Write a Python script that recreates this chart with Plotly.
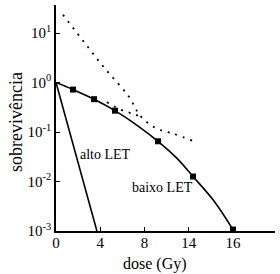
import plotly.graph_objects as go

# baixo LET curve
low_dose = [0, 1.54, 3.44, 5.33, 7.3, 9.22, 10.9, 12.39, 14.3, 16.0]
low_surv = [1.0, 0.72, 0.46, 0.27, 0.138, 0.065, 0.030, 0.0126, 0.0040, 0.00107]
# markers
mk_dose = [1.54, 3.44, 5.33, 9.22, 12.39, 16.0]
mk_surv = [0.72, 0.46, 0.27, 0.065, 0.0126, 0.00107]
# alto LET line
high_dose = [0, 3.7]
high_surv = [1.0, 0.001]
# dotted extrapolation (upper)
dotA_dose = [0.63, 2.62, 4.52, 6.51, 7.69, 9.13, 10.58, 12.48]
dotA_surv = [23.4, 6.2, 1.8, 0.55, 0.204, 0.117, 0.093, 0.065]
# dotted (lower, near curve)
dotB_dose = [4.6, 5.9, 6.9, 7.7]
dotB_surv = [0.40, 0.28, 0.235, 0.204]

xtick_vals = [0, 4, 8, 12, 16]
xtick_text = ["0", "4", "8", "14", "16"]
ytick_vals = [0.001, 0.01, 0.1, 1, 10]
ytick_text = ["10<sup>-3</sup>", "10<sup>-2</sup>", "10<sup>-1</sup>", "10<sup>0</sup>", "10<sup>1</sup>"]

font = "Liberation Serif"
fig = go.Figure()
dash = "2px,6px"
fig.add_trace(go.Scatter(x=dotA_dose, y=dotA_surv, mode="lines", line=dict(color="black", width=1.8, dash=dash, shape="spline")))
fig.add_trace(go.Scatter(x=dotB_dose, y=dotB_surv, mode="lines", line=dict(color="black", width=1.8, dash=dash, shape="spline")))
fig.add_trace(go.Scatter(x=low_dose, y=low_surv, mode="lines", line=dict(color="black", width=1.6, shape="spline")))
fig.add_trace(go.Scatter(x=high_dose, y=high_surv, mode="lines", line=dict(color="black", width=1.6)))
fig.add_trace(go.Scatter(x=mk_dose, y=mk_surv, mode="markers", marker=dict(symbol="square", size=6, color="black")))

fig.add_annotation(x=4.52, y=-1.45, xref="x", yref="y", text="alto LET", showarrow=False,
                   font=dict(family=font, size=14, color="black"))
fig.add_annotation(x=9.67, y=-2.12, xref="x", yref="y", text="baixo LET", showarrow=False,
                   font=dict(family=font, size=14, color="black"))

W, H, L, R, T, B = 280, 274, 56, 5, 5, 43
pw, ph = W - L - R, H - T - B
def px2paper(px, py):
    return (px - L) / pw, (H - B - py) / ph

tx, ty = px2paper(16, 122)
fig.add_annotation(x=tx, y=ty, xref="paper", yref="paper", text="sobrevivência", showarrow=False,
                   xanchor="center", yanchor="middle",
                   textangle=-90, font=dict(family=font, size=18, color="black"))
tx, ty = px2paper(155, 264)
fig.add_annotation(x=tx, y=ty, xref="paper", yref="paper", text="dose (Gy)", showarrow=False,
                   xanchor="center", yanchor="middle",
                   font=dict(family=font, size=16, color="black"))

fig.update_layout(
    width=W, height=H,
    margin=dict(l=L, r=R, t=T, b=B),
    paper_bgcolor="white", plot_bgcolor="white",
    showlegend=False,
    font=dict(family=font, size=15, color="black"),
    xaxis=dict(range=[0, 19.8], tickvals=xtick_vals, ticktext=xtick_text, ticks="inside", ticklen=4,
               tickcolor="black", showline=True, linecolor="black", linewidth=1.6, showgrid=False,
               zeroline=False, ticklabelstandoff=-3),
    yaxis=dict(type="log", range=[-3, 1.566], tickvals=ytick_vals, ticktext=ytick_text, ticks="inside",
               ticklen=4, tickcolor="black", showline=True, linecolor="black", linewidth=1.6,
               showgrid=False, zeroline=False),
)
fig.write_html("out.html")
